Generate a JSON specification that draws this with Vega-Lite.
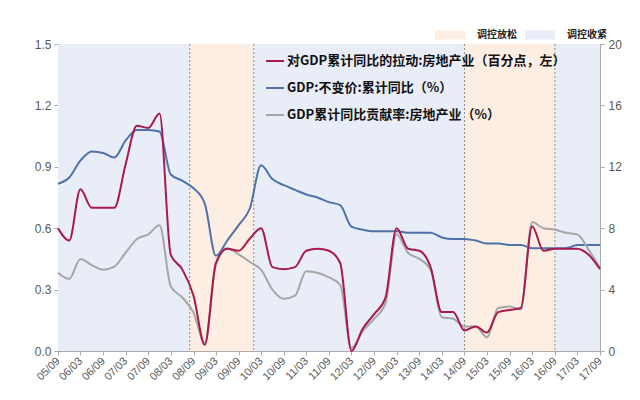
{
  "$schema": "https://vega.github.io/schema/vega-lite/v6.json",
  "width": 542,
  "height": 307,
  "autosize": {"type": "none"},
  "padding": {"left": 58, "top": 44, "right": 40, "bottom": 49},
  "background": "white",
  "config": {
    "view": {"stroke": "#ABABAB", "strokeWidth": 1},
    "axis": {
      "labelFont": "Liberation Sans",
      "labelFontSize": 12,
      "labelColor": "#595959",
      "domainColor": "#ABABAB",
      "tickColor": "#ABABAB",
      "tickSize": 4,
      "grid": false,
      "title": null,
      "labelOverlap": false
    },
    "axisX": {"labelOverlap": false, "labelFontSize": 11}
  },
  "datasets": {
    "series": [
      {"date": "2005-09-01", "red": 0.60, "blue": 10.9, "gray": 5.1},
      {"date": "2005-12-01", "red": 0.54, "blue": 11.3, "gray": 4.7},
      {"date": "2006-03-01", "red": 0.79, "blue": 12.4, "gray": 6.0},
      {"date": "2006-06-01", "red": 0.70, "blue": 13.0, "gray": 5.6},
      {"date": "2006-09-01", "red": 0.70, "blue": 12.9, "gray": 5.3},
      {"date": "2006-12-01", "red": 0.70, "blue": 12.6, "gray": 5.5},
      {"date": "2007-03-01", "red": 0.91, "blue": 13.7, "gray": 6.4},
      {"date": "2007-06-01", "red": 1.10, "blue": 14.4, "gray": 7.3},
      {"date": "2007-09-01", "red": 1.09, "blue": 14.4, "gray": 7.6},
      {"date": "2007-12-01", "red": 1.16, "blue": 14.3, "gray": 8.2},
      {"date": "2008-03-01", "red": 0.47, "blue": 11.5, "gray": 4.2},
      {"date": "2008-06-01", "red": 0.40, "blue": 11.1, "gray": 3.5},
      {"date": "2008-09-01", "red": 0.27, "blue": 10.6, "gray": 2.5},
      {"date": "2008-12-01", "red": 0.03, "blue": 9.6, "gray": 0.5},
      {"date": "2009-03-01", "red": 0.43, "blue": 6.2, "gray": 5.6},
      {"date": "2009-06-01", "red": 0.50, "blue": 7.2, "gray": 6.7},
      {"date": "2009-09-01", "red": 0.49, "blue": 8.2, "gray": 6.3},
      {"date": "2009-12-01", "red": 0.55, "blue": 9.3, "gray": 5.8},
      {"date": "2010-03-01", "red": 0.60, "blue": 12.1, "gray": 5.3},
      {"date": "2010-06-01", "red": 0.41, "blue": 11.2, "gray": 4.0},
      {"date": "2010-09-01", "red": 0.40, "blue": 10.8, "gray": 3.4},
      {"date": "2010-12-01", "red": 0.41, "blue": 10.5, "gray": 3.6},
      {"date": "2011-03-01", "red": 0.49, "blue": 10.2, "gray": 5.2},
      {"date": "2011-06-01", "red": 0.50, "blue": 10.0, "gray": 5.1},
      {"date": "2011-09-01", "red": 0.49, "blue": 9.7, "gray": 4.8},
      {"date": "2011-12-01", "red": 0.43, "blue": 9.5, "gray": 4.3},
      {"date": "2012-03-01", "red": 0.00, "blue": 8.1, "gray": 0.2},
      {"date": "2012-06-01", "red": 0.11, "blue": 7.9, "gray": 1.3},
      {"date": "2012-09-01", "red": 0.18, "blue": 7.8, "gray": 2.1},
      {"date": "2012-12-01", "red": 0.26, "blue": 7.8, "gray": 3.1},
      {"date": "2013-03-01", "red": 0.60, "blue": 7.8, "gray": 7.6},
      {"date": "2013-06-01", "red": 0.50, "blue": 7.7, "gray": 6.4},
      {"date": "2013-09-01", "red": 0.49, "blue": 7.7, "gray": 6.0},
      {"date": "2013-12-01", "red": 0.41, "blue": 7.7, "gray": 5.3},
      {"date": "2014-03-01", "red": 0.19, "blue": 7.4, "gray": 2.2},
      {"date": "2014-06-01", "red": 0.19, "blue": 7.3, "gray": 2.1},
      {"date": "2014-09-01", "red": 0.10, "blue": 7.3, "gray": 1.6},
      {"date": "2014-12-01", "red": 0.12, "blue": 7.2, "gray": 1.6},
      {"date": "2015-03-01", "red": 0.09, "blue": 7.0, "gray": 0.9},
      {"date": "2015-06-01", "red": 0.19, "blue": 7.0, "gray": 2.8},
      {"date": "2015-09-01", "red": 0.20, "blue": 6.9, "gray": 2.9},
      {"date": "2015-12-01", "red": 0.21, "blue": 6.9, "gray": 2.7},
      {"date": "2016-03-01", "red": 0.61, "blue": 6.7, "gray": 8.4},
      {"date": "2016-06-01", "red": 0.49, "blue": 6.7, "gray": 8.0},
      {"date": "2016-09-01", "red": 0.50, "blue": 6.7, "gray": 7.9},
      {"date": "2016-12-01", "red": 0.50, "blue": 6.7, "gray": 7.7},
      {"date": "2017-03-01", "red": 0.50, "blue": 6.9, "gray": 7.6},
      {"date": "2017-06-01", "red": 0.47, "blue": 6.9, "gray": 6.6},
      {"date": "2017-09-01", "red": 0.40, "blue": 6.9, "gray": 5.4}
    ],
    "bands": [
      {"date": "2005-09-01", "end": "2008-08-01", "type": "调控收紧"},
      {"date": "2008-08-01", "end": "2010-01-01", "type": "调控放松"},
      {"date": "2010-01-01", "end": "2014-09-01", "type": "调控收紧"},
      {"date": "2014-09-01", "end": "2016-09-01", "type": "调控放松"},
      {"date": "2016-09-01", "end": "2017-09-01", "type": "调控收紧"}
    ],
    "rules": [
      {"date": "2008-08-01"},
      {"date": "2010-01-01"},
      {"date": "2014-09-01"},
      {"date": "2016-09-01"}
    ]
  },
  "encoding": {
    "x": {
      "field": "date",
      "type": "temporal",
      "scale": {"type": "utc", "domain": [1125532800000, 1504224000000]},
      "axis": {
        "format": "%y/%m",
        "labelAngle": -45,
        "labelFontSize": 11,
        "labelAlign": "right",
        "labelBaseline": "middle",
        "labelPadding": 4,
        "labelOverlap": false,
        "labelBound": false,
        "values": [1125532800000, 1141171200000, 1157068800000, 1172707200000, 1188604800000, 1204329600000, 1220227200000, 1235865600000, 1251763200000, 1267401600000, 1283299200000, 1298937600000, 1314835200000, 1330560000000, 1346457600000, 1362096000000, 1377993600000, 1393632000000, 1409529600000, 1425168000000, 1441065600000, 1456790400000, 1472688000000, 1488326400000, 1504224000000]
      }
    }
  },
  "layer": [
    {
      "data": {"name": "bands"},
      "mark": {"type": "rect"},
      "encoding": {
        "x2": {"field": "end"},
        "fill": {
          "field": "type",
          "type": "nominal",
          "scale": {"domain": ["调控放松", "调控收紧"], "range": ["#FCEEE3", "#E8EDF8"]},
          "legend": {
            "title": null,
            "orient": "none",
            "direction": "horizontal",
            "legendX": 377,
            "legendY": -24,
            "padding": 0,
            "symbolType": "M-1,-0.3H1V0.3H-1Z",
            "symbolSize": 900,
            "symbolStrokeWidth": 0,
            "symbolOpacity": 1,
            "labelFont": "Noto Sans CJK SC",
            "labelFontSize": 10,
            "labelFontWeight": "bold",
            "labelColor": "#222222",
            "labelOffset": 12,
            "columnPadding": 8
          }
        }
      }
    },
    {
      "data": {"name": "rules"},
      "mark": {"type": "rule", "color": "#8C8C8C", "strokeDash": [2, 2], "strokeWidth": 1},
      "encoding": {}
    },
    {
      "data": {"name": "series"},
      "layer": [
        {
          "mark": {"type": "line", "interpolate": "monotone", "strokeWidth": 2},
          "encoding": {
            "y": {
              "field": "blue",
              "type": "quantitative",
              "scale": {"domain": [0, 20], "nice": false},
              "axis": {"orient": "right", "values": [0, 4, 8, 12, 16, 20], "labelPadding": 4}
            },
            "stroke": {"datum": "GDP:不变价:累计同比（%）"}
          }
        },
        {
          "mark": {"type": "line", "interpolate": "monotone", "strokeWidth": 2},
          "encoding": {
            "y": {"field": "gray", "type": "quantitative"},
            "stroke": {"datum": "GDP累计同比贡献率:房地产业（%）"}
          }
        }
      ]
    },
    {
      "data": {"name": "series"},
      "mark": {"type": "line", "interpolate": "monotone", "strokeWidth": 2},
      "encoding": {
        "y": {
          "field": "red",
          "type": "quantitative",
          "scale": {"domain": [0, 1.5], "nice": false},
          "axis": {"orient": "left", "values": [0, 0.3, 0.6, 0.9, 1.2, 1.5], "format": ".1f", "labelPadding": 3}
        },
        "stroke": {
          "datum": "对GDP累计同比的拉动:房地产业（百分点，左）",
          "scale": {
            "domain": ["对GDP累计同比的拉动:房地产业（百分点，左）", "GDP:不变价:累计同比（%）", "GDP累计同比贡献率:房地产业（%）"],
            "range": ["#A8194C", "#4F72A8", "#A6A6A6"]
          },
          "legend": {
            "title": null,
            "orient": "none",
            "legendX": 207,
            "legendY": 7,
            "padding": 0,
            "symbolType": "stroke",
            "symbolSize": 324,
            "symbolStrokeWidth": 2,
            "labelFont": "Noto Sans CJK SC",
            "labelFontSize": 13,
            "labelFontWeight": "bold",
            "labelColor": "#111111",
            "labelOffset": 2,
            "labelLimit": 400,
            "rowPadding": 10
          }
        }
      }
    }
  ],
  "resolve": {"scale": {"y": "independent"}}
}
